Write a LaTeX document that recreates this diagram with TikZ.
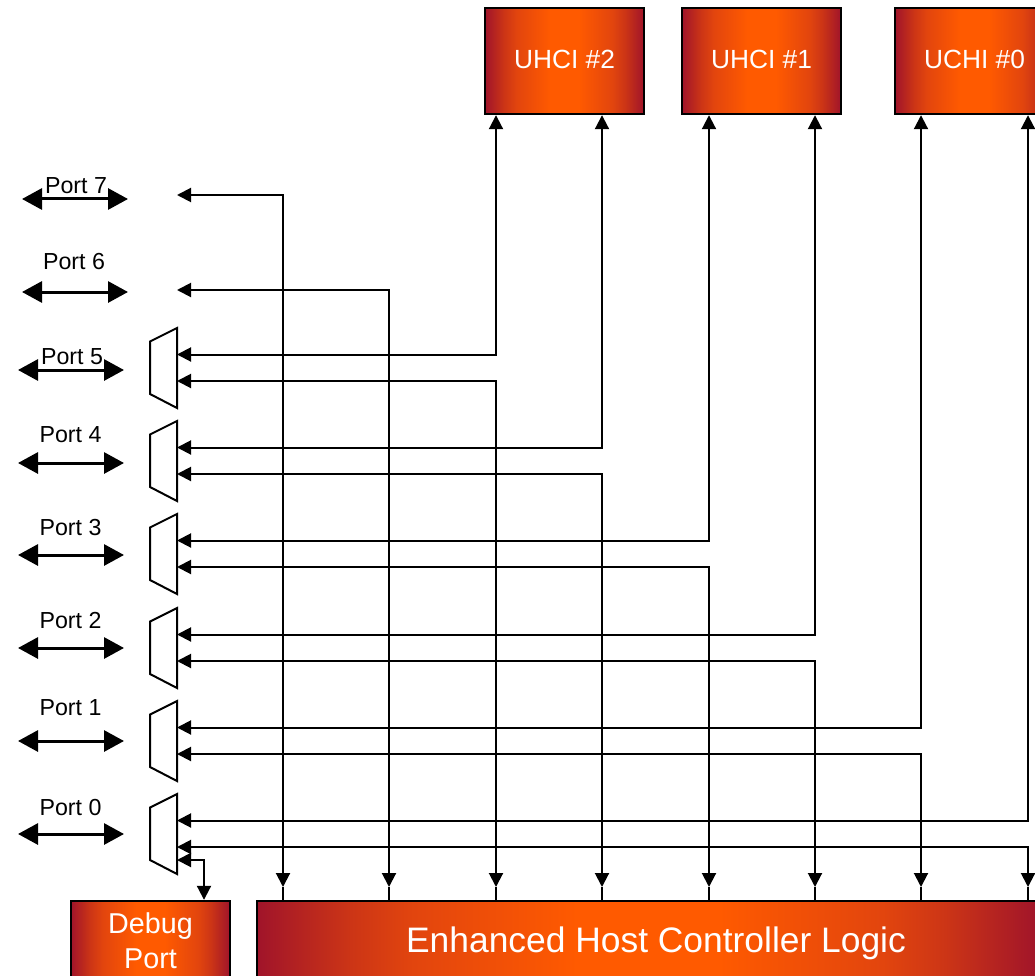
\documentclass[tikz,border=0pt]{standalone}
\usepackage{fontspec}
\setmainfont{Liberation Sans}
\usetikzlibrary{arrows.meta,positioning,calc}
\definecolor{hcdark}{HTML}{A0142A}
\definecolor{hcmidA}{HTML}{CC3516}
\definecolor{hcmidB}{HTML}{E2450E}
\definecolor{hcorange}{HTML}{FF5A00}
\pgfdeclarehorizontalshading{boxfade}{100bp}{color(0bp)=(hcdark); color(25bp)=(hcdark); color(31bp)=(hcmidA); color(35bp)=(hcmidB); color(45.5bp)=(hcorange); color(54.5bp)=(hcorange); color(65bp)=(hcmidB); color(69bp)=(hcmidA); color(75bp)=(hcdark); color(100bp)=(hcdark)}
\tikzstyle{hcbox} = [draw=black,line width=2.4pt,shade,shading=boxfade,text=white,minimum width=159pt,align=center]
\tikzstyle{topbox} = [hcbox,minimum height=106pt,text depth=2.5pt,font=\fontsize{26.3}{30}\selectfont]
\tikzstyle{portlabel} = [inner sep=0pt,font=\fontsize{23.2}{27}\selectfont]
\tikzstyle{portline} = [line width=3pt,{Triangle[length=20pt,width=21pt]}-{Triangle[length=20pt,width=21pt]}]
\tikzstyle{conn} = [line width=2pt]
\tikzstyle{muxbody} = [line width=2pt,line join=miter]
\tikzset{>={Triangle[length=14pt,width=14pt]}}

\begin{document}
\begin{tikzpicture}[x=1pt,y=-1pt]
    \clip (0,0) rectangle (1035,976);

    % controllers
    \node [topbox] (uhciTwo) at (564.5,61) {UHCI \#2};
    \node [topbox] (uhciOne) at (761.5,61) {UHCI \#1};
    \node [topbox] (uchiZero) at (974.5,61) {UCHI \#0};
    \node [hcbox,minimum height=79pt,font=\fontsize{28.7}{35}\selectfont] (debugPort) at (150.5,940.5) {Debug\\Port};
    \node [hcbox,minimum width=782pt,minimum height=84pt,font=\fontsize{35.4}{40}\selectfont] (ehciLogic) at (648,943) {\hspace*{16pt}Enhanced Host Controller Logic};

    % ports
    \node [portlabel] (labelSeven) at (76,186) {Port 7};
    \node [portlabel] (labelSix) at (74,262) {Port 6};
    \node [portlabel] (labelFive) at (72,357) {Port 5};
    \node [portlabel] (labelFour) at (70.5,434.5) {Port 4};
    \node [portlabel] (labelThree) at (70.5,527.5) {Port 3};
    \node [portlabel] (labelTwo) at (70.5,620.5) {Port 2};
    \node [portlabel] (labelOne) at (70.5,707.5) {Port 1};
    \node [portlabel] (labelZero) at (70.5,807.5) {Port 0};
    \foreach \i/\xa/\ya in {7/22/199,6/22/292,5/18/370,4/18/463,3/18/555,2/18/648,1/18/741,0/18/834} {
      \coordinate (portA\i) at (\xa,\ya);
      \coordinate (portB\i) at (\xa+106,\ya);
      \draw [portline] (portA\i) -- (portB\i);
    }

    % muxes, one per shared port
    \foreach \i/\ya in {5/328,4/421,3/514,2/608,1/701,0/794} {
      \draw [muxbody] (177,\ya) -- (150,\ya+13.5) -- (150,\ya+66) -- (177,\ya+80) -- cycle;
      \coordinate (muxUp\i) at (177,\ya+26.5);
      \coordinate (muxLow\i) at (177,\ya+53);
    }
    \coordinate (muxDebug) at (177,860);
    \coordinate (freeSeven) at (177,195);
    \coordinate (freeSix) at (177,290);

    % companion controllers
    \foreach \i/\xa/\ctrl in {5/496/uhciTwo,4/602/uhciTwo,3/709/uhciOne,2/815/uhciOne,1/921/uchiZero,0/1028/uchiZero} {
      \coordinate (top\i) at (\xa,0 |- \ctrl.south);
      \draw [conn,<->] (muxUp\i) -| (top\i);
    }

    % enhanced logic
    \foreach \i/\xa in {5/496,4/602,3/709,2/815,1/921,0/1028} {
      \coordinate (drop\i) at (\xa,887);
      \coordinate (foot\i) at (\xa,0 |- ehciLogic.north);
      \draw [conn,<->] (muxLow\i) -| (drop\i);
      \draw [conn] (drop\i) -- (foot\i);
    }
    \foreach \i/\xa/\ya in {Seven/283/freeSeven,Six/389/freeSix} {
      \coordinate (drop\i) at (\xa,887);
      \coordinate (foot\i) at (\xa,0 |- ehciLogic.north);
      \draw [conn,<->] (\ya) -| (drop\i);
      \draw [conn] (drop\i) -- (foot\i);
    }

    % debug port
    \coordinate (debugIn) at (204,0 |- debugPort.north);
    \draw [conn,<->] (muxDebug) -| (debugIn);
  \end{tikzpicture}
\end{document}
